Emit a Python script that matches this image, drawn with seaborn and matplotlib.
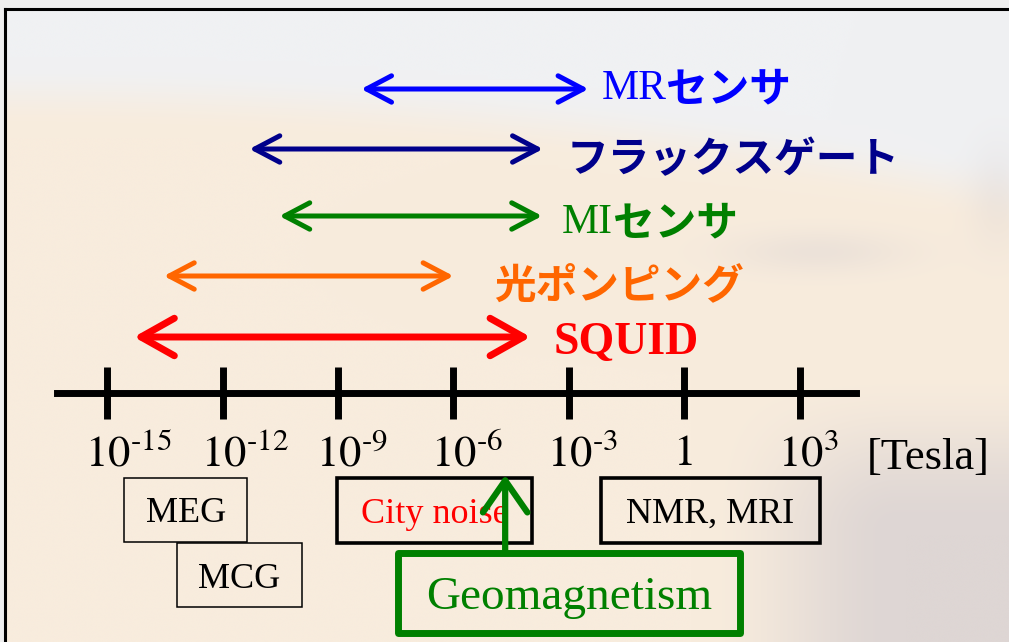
import numpy as np
import matplotlib
matplotlib.use("Agg")
import matplotlib.pyplot as plt
from matplotlib.patches import Rectangle
from matplotlib.ticker import NullLocator
from matplotlib.transforms import ScaledTranslation
import seaborn as sns

# ---- data (Tesla) ----
sensor_latin = ["MR", None, "MI", None, "SQUID"]
sensor_jp    = ["センサ", "フラックスゲート", "センサ", "光ポンピング", None]
sensor_lo    = [4e-9, 5e-12, 3e-11, 3e-14, 5e-15]
sensor_hi    = [3.2e-3, 2.1e-4, 2e-4, 1e-6, 1e-4]
sensor_color = ["#0000ff", "#00008b", "#008000", "#ff6600", "#ff0000"]

tick_vals   = [1e-15, 1e-12, 1e-9, 1e-6, 1e-3, 1, 1e3]
tick_labels = [r"$10^{\text{-}15}$", r"$10^{\text{-}12}$", r"$10^{\text{-}9}$",
               r"$10^{\text{-}6}$", r"$10^{\text{-}3}$", r"$1$", r"$10^{3}$"]

source_names = ["MEG", "MCG", "City noise", "NMR, MRI"]
source_lo    = [2.8e-15, 6.6e-14, 9.3e-10, 6.8e-3]
source_hi    = [4.4e-12, 1.15e-10, 1.1e-4, 3.3e3]
source_color = ["black", "black", "red", "black"]

geo_field = 2.2e-5
geo_lo, geo_hi = 3.6e-8, 27.5

# ---- layout (pixels, y grows downward) ----
row_y    = [89, 149, 216, 276, 337]
label_dx = [13, 24, 20, 41, 23]
label_dy = [0, 11, 7, 10, 6]
arrow_lw = [3.6, 3.6, 3.6, 3.6, 5.0]
head     = [(1.8, 0.95), (1.8, 0.95), (1.8, 0.95), (1.8, 0.95), (2.4, 1.35)]
box_top  = [478, 543, 478, 478]
box_h    = [64, 64, 65, 65]
box_lw   = [1.1, 1.1, 2.6, 2.6]

sns.set_theme(style="white")
plt.rcParams["font.family"] = ["Liberation Serif", "Noto Sans CJK JP"]
plt.rcParams["mathtext.fontset"] = "stix"

W, H = 1009, 642
fig = plt.figure(figsize=(W / 100, H / 100), dpi=100, facecolor="#efefef")

# background picture (soft desert gradient) inside a black frame
bg = fig.add_axes([5 / W, 0, 1, (H - 9) / H])
X, Y = np.meshgrid(np.linspace(5, W + 5, 220), np.linspace(9, H + 9, 140))
def smooth(t):
    t = np.clip(t, 0, 1)
    return t * t * (3 - 2 * t)
grey = np.array([240, 241, 243]) / 255
beige = np.array([248, 236, 221]) / 255
dusk = np.array([222, 214, 212]) / 255
t = smooth((Y - (95 + 100 * (X / W) ** 2)) / 70 + 0.5)[..., None]
img = grey * (1 - t) + beige * t
w = (smooth((X - 700) / 200) * smooth((Y - 370) / 170))[..., None]
img = img * (1 - w) + dusk * w
for cx, cy, sx, sy, a in [(820, 255, 90, 22, 0.45), (1000, 200, 30, 55, 0.35)]:
    g = (a * np.exp(-((X - cx) / sx) ** 2 - ((Y - cy) / sy) ** 2))[..., None]
    img = img * (1 - g) + dusk * g
bg.imshow(img, aspect="auto", interpolation="bicubic")
bg.set_xticks([])
bg.set_yticks([])
for side in ["right", "bottom"]:
    bg.spines[side].set_visible(False)
for side in ["left", "top"]:
    bg.spines[side].set_color("black")
    bg.spines[side].set_linewidth(2.2)

# main axes: log field axis, y in pixels
ax = fig.add_axes([0, 0, 1, 1])
ax.patch.set_alpha(0)
ax.set_xscale("log")
ax.set_xlim(10 ** -17.78, 10 ** 8.43)
ax.set_ylim(H, 0)
sns.despine(ax=ax, left=True, top=True, right=True)
ax.set_yticks([])
ax.spines["bottom"].set_position(("data", 393))
ax.spines["bottom"].set_bounds(10 ** -16.3, 10 ** 4.45)
ax.spines["bottom"].set_linewidth(5)
ax.spines["bottom"].set_color("black")
ax.set_xticks(tick_vals)
ax.set_xticklabels(tick_labels)
ax.xaxis.set_minor_locator(NullLocator())
ax.tick_params(axis="x", which="major", bottom=True, direction="inout", length=37, width=5,
               color="black", labelsize=32, labelcolor="black", pad=11)
for lab, txt in zip(ax.get_xticklabels(), tick_labels):
    shift = -11 if txt == r"$1$" else -22
    lab.set_horizontalalignment("left")
    lab.set_transform(lab.get_transform() + ScaledTranslation(shift / 100, 0, fig.dpi_scale_trans))
ax.set_xlabel("[Tesla]", fontsize=32, color="black", family="Liberation Serif", ha="right", va="top")
ax.xaxis.set_label_coords(0.981, 0.318)

# sensor range arrows and labels
for i in range(len(row_y)):
    hl, hw = head[i]
    c = sensor_color[i]
    ax.annotate("", xy=(sensor_hi[i], row_y[i]), xytext=(sensor_lo[i], row_y[i]),
                arrowprops=dict(arrowstyle=f"<->,head_length={hl},head_width={hw}",
                                color=c, lw=arrow_lw[i], shrinkA=0, shrinkB=0,
                                mutation_scale=10))
    pos = dict(xy=(sensor_hi[i], row_y[i]), xytext=(label_dx[i], -label_dy[i]),
               textcoords="offset pixels", ha="left", va="center", color=c)
    if sensor_latin[i] is not None:
        bold = sensor_jp[i] is None
        t1 = ax.annotate(sensor_latin[i], fontsize=33 if bold else 30,
                         family="Liberation Serif",
                         fontweight="bold" if bold else "normal", **pos)
        if sensor_jp[i] is not None:
            ax.annotate(sensor_jp[i], xy=(1, 0.5), xycoords=t1, ha="left", va="center",
                        color=c, fontsize=30, family="Noto Sans CJK JP", fontweight="bold")
    else:
        ax.annotate(sensor_jp[i], fontsize=30, family="Noto Sans CJK JP",
                    fontweight="bold", **pos)

# field sources
for i, name in enumerate(source_names):
    ax.add_patch(Rectangle((source_lo[i], box_top[i]), source_hi[i] - source_lo[i], box_h[i],
                           fill=False, ec="black", lw=box_lw[i], zorder=3))
    ax.text(np.sqrt(source_lo[i] * source_hi[i]), box_top[i] + box_h[i] / 2 + 4, name,
            ha="center", va="center", fontsize=26, color=source_color[i],
            family="Liberation Serif", zorder=3)

ax.add_patch(Rectangle((geo_lo, 553), geo_hi - geo_lo, 80, fill=False, ec="#008000",
                       lw=5, joinstyle="round", zorder=4))
ax.text(np.sqrt(geo_lo * geo_hi), 598, "Geomagnetism", ha="center", va="center",
        fontsize=34, color="#008000", family="Liberation Serif", zorder=4)
ax.annotate("", xy=(geo_field, 475), xytext=(geo_field, 553),
            arrowprops=dict(arrowstyle="->,head_length=2.3,head_width=1.6",
                            color="#008000", lw=4.5, shrinkA=0, shrinkB=0,
                            mutation_scale=10), zorder=5)

fig.savefig("out.png", dpi=100, facecolor=fig.get_facecolor())
